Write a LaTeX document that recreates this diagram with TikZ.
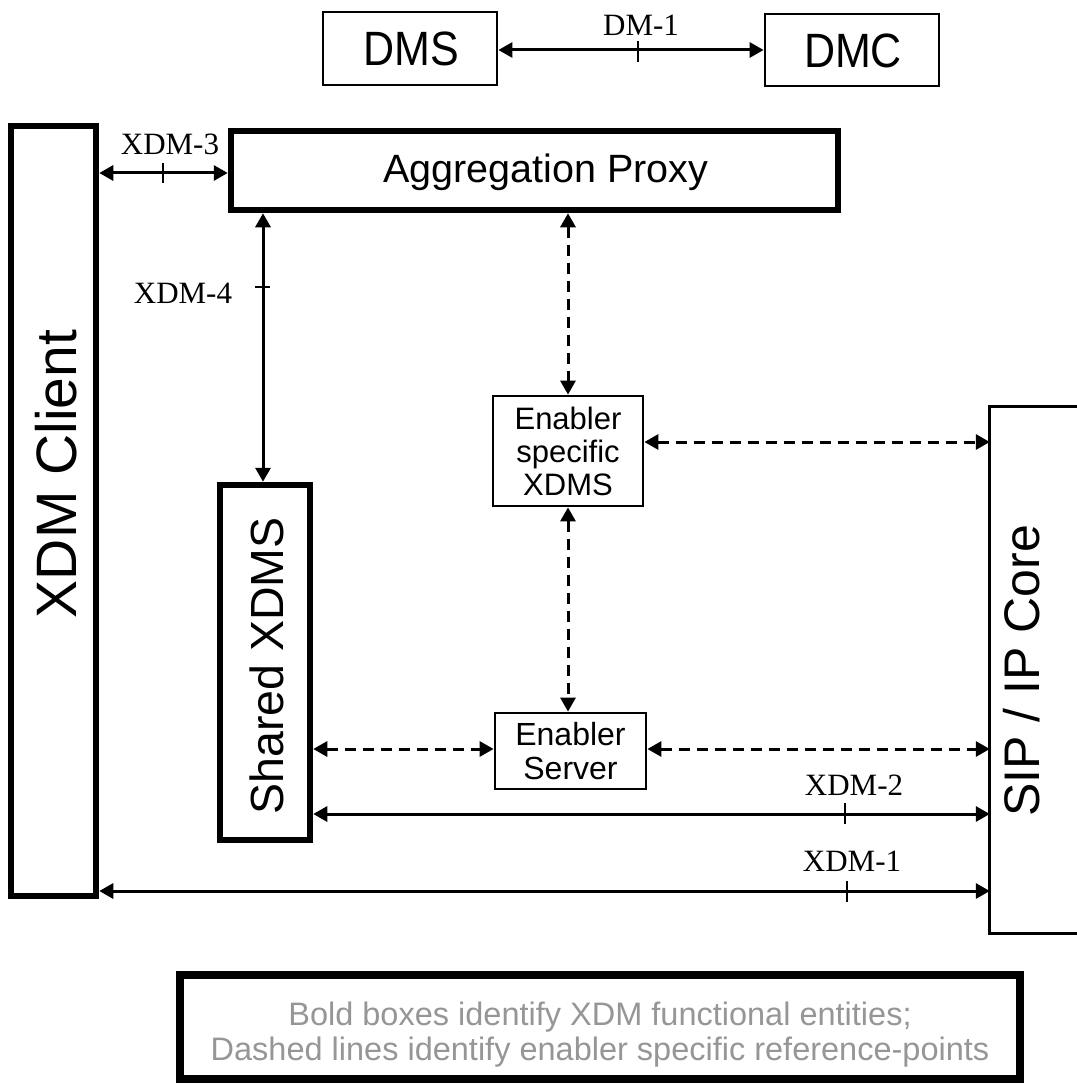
\documentclass[tikz,border=0pt]{standalone}
\usepackage{fontspec}
\setmainfont{Liberation Sans}
\newfontfamily\lblfont{Liberation Serif}
\usetikzlibrary{arrows.meta}
\definecolor{notegray}{RGB}{150,150,150}
\begin{document}
\begin{tikzpicture}[x=1pt,y=-1pt,
  boldbox/.style={draw, line width=6.5pt, inner sep=0pt},
  thinbox/.style={draw, line width=2.8pt, inner sep=0pt},
  conn/.style={line width=3pt, {Triangle[length=14pt,width=15pt]}-{Triangle[length=14pt,width=15pt]}},
  dconn/.style={conn, dash pattern=on 11pt off 7pt},
  tickmark/.style={line width=2.5pt},
  lbl/.style={font=\lblfont\fontsize{31}{31}\selectfont, anchor=base, inner sep=0pt},
  vtext/.style={rotate=90, inner sep=0pt},
  notetext/.style={anchor=base, text=notegray, font=\fontsize{32.5}{35}\selectfont, inner sep=0pt},
]
\useasboundingbox (0,0) rectangle (1076,1086);

% rows for connectors
\coordinate (r50) at (0,50);
\coordinate (r173) at (0,173);
\coordinate (r442) at (0,442);
\coordinate (r749) at (0,749);
\coordinate (r814) at (0,814);
\coordinate (r891) at (0,891);

% top: DMS / DMC
\node[thinbox, minimum width=174pt, minimum height=73pt] (dms) at (410,48.5) {};
\node[font=\fontsize{43}{43}\selectfont, yscale=1.12, inner sep=0pt] (dmstxt) at (411,48.5) {DMS};
\node[thinbox, minimum width=174pt, minimum height=72pt] (dmc) at (852,50) {};
\node[font=\fontsize{43}{43}\selectfont, yscale=1.12, inner sep=0pt] (dmctxt) at (853,51) {DMC};
\draw[conn] (dms.east |- r50) -- (dmc.west |- r50);
\draw[tickmark] (638,41) -- (638,62);
\node[lbl] (ldm1) at (641,36) {DM-1};

% XDM client
\node[boldbox, minimum width=85pt, minimum height=770pt] (client) at (53.5,511) {};
\node[vtext, font=\fontsize{57}{57}\selectfont] (clienttxt) at (56,474) {XDM Client};

% Aggregation proxy
\node[boldbox, minimum width=607pt, minimum height=79pt] (proxy) at (534.5,170.5) {};
\node[font=\fontsize{39.5}{39.5}\selectfont, inner sep=0pt] (proxytxt) at (546,172) {Aggregation Proxy};

% Shared XDMS
\node[boldbox, minimum width=90pt, minimum height=355pt] (shared) at (265,662.5) {};
\node[vtext, font=\fontsize{46.5}{46.5}\selectfont] (sharedtxt) at (266.5,666) {Shared XDMS};

% Enabler specific XDMS
\node[thinbox, minimum width=150pt, minimum height=110pt, align=center, font=\fontsize{31}{33}\selectfont] (exdms) at (568,451) {Enabler\\specific\\XDMS};

% Enabler server
\node[thinbox, minimum width=151pt, minimum height=76pt, align=center, font=\fontsize{32}{34}\selectfont] (server) at (570.5,751) {Enabler\\Server};

% SIP / IP Core
\node[minimum width=90pt, minimum height=526pt, inner sep=0pt] (sip) at (1035,670) {};
\draw[line width=2.8pt] (sip.north east) -- (sip.north west) -- (sip.south west) -- (sip.south east);
\node[vtext, font=\fontsize{50}{50}\selectfont] (siptxt) at (1022,671) {SIP / IP Core};

% XDM-3
\draw[conn] (client.east |- r173) -- (proxy.west |- r173);
\draw[tickmark] (163,163) -- (163,183);
\node[lbl] (lx3) at (170,155) {XDM-3};

% XDM-4
\draw[conn] ([xshift=-2pt]shared.north |- proxy.south) -- ([xshift=-2pt]shared.north);
\draw[tickmark] (255,287) -- (270,287);
\node[lbl] (lx4) at (183,303) {XDM-4};

% dashed enabler specific
\draw[dconn] (exdms.north |- proxy.south) -- (exdms.north);
\draw[dconn] (exdms.south) -- (exdms.south |- server.north);
\draw[dconn] (exdms.east |- r442) -- (sip.west |- r442);
\draw[dconn] (shared.east |- r749) -- (server.west |- r749);
\draw[dconn] (server.east |- r749) -- (sip.west |- r749);

% XDM-2
\draw[conn] (shared.east |- r814) -- (sip.west |- r814);
\draw[tickmark] (845,803) -- (845,824);
\node[lbl] (lx2) at (854,795) {XDM-2};

% XDM-1
\draw[conn] (client.east |- r891) -- (sip.west |- r891);
\draw[tickmark] (847,881) -- (847,902);
\node[lbl] (lx1) at (852,871) {XDM-1};

% note box
\node[draw, line width=8pt, minimum width=840pt, minimum height=104pt, inner sep=0pt] (note) at (600,1027) {};
\node[notetext] (note1) at (600,1025) {Bold boxes identify XDM functional entities;};
\node[notetext] (note2) at (600,1060) {Dashed lines identify enabler specific reference-points};
\end{tikzpicture}
\end{document}
